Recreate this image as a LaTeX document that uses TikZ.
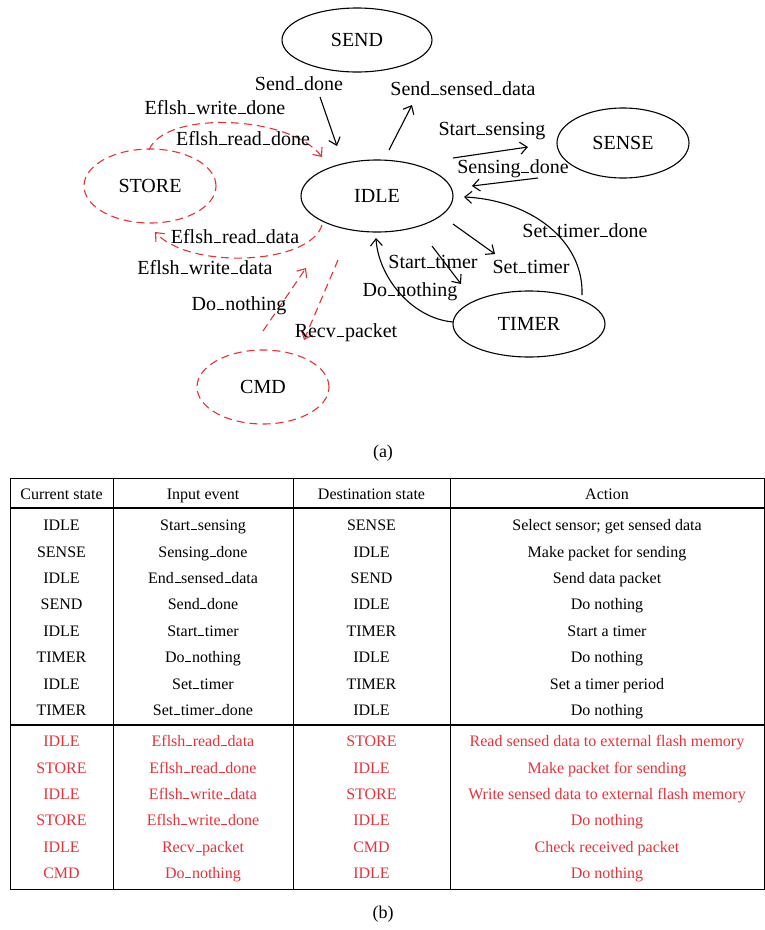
\documentclass[tikz,border=0pt]{standalone}
\usepackage{fontspec}
\setmainfont{Liberation Serif}
\usetikzlibrary{arrows.meta,shapes.geometric}
\definecolor{hlred}{RGB}{232,48,56}
% short baseline underscore used in event names
\newcommand{\us}{\kern0.04em\rule[-0.02em]{0.38em}{0.06em}\kern0.04em}

\begin{document}
\begin{tikzpicture}[x=1pt,y=-1pt,
  state/.style={ellipse, draw, line width=1.1pt, inner sep=0pt, font=\fontsize{20}{24}\selectfont},
  redstate/.style={state, draw=hlred, dash pattern=on 8pt off 5pt},
  lbl/.style={font=\fontsize{20}{24}\selectfont, inner sep=0pt, anchor=base},
  arr/.style={line width=1.1pt, -{Straight Barb[length=7pt,width=12pt,line width=1.1pt]}},
  redarr/.style={arr, draw=hlred, dash pattern=on 8pt off 5pt},
  cell/.style={font=\fontsize{16}{19}\selectfont, inner sep=0pt, anchor=base},
  redcell/.style={cell, text=hlred},
  tabrule/.style={line width=0.9pt},
  heavyrule/.style={line width=1.6pt},
  caption/.style={font=\fontsize{18}{21}\selectfont, inner sep=0pt, anchor=base}
]
\useasboundingbox (0,0) rectangle (765,930);

% ---------- state machine ----------
\node[state, minimum width=150pt, minimum height=64pt] (SEND) at (357,40) {SEND};
\node[state, minimum width=132pt, minimum height=70pt] (SENSE) at (623,143) {SENSE};
\node[state, minimum width=152pt, minimum height=72pt] (IDLE) at (377,196) {IDLE};
\node[state, minimum width=152pt, minimum height=66pt] (TIMER) at (529,324) {TIMER};
\node[redstate, minimum width=132pt, minimum height=74pt] (STORE) at (150,186) {STORE};
\node[redstate, minimum width=132pt, minimum height=74pt] (CMD) at (263,387) {CMD};

% connector end points
\coordinate (sdA) at (320,97);   \coordinate (sdB) at (337,146);
\coordinate (ssA) at (389,150);  \coordinate (ssB) at (412,105);
\coordinate (stA) at (453,158);  \coordinate (stB) at (528,147);
\coordinate (snA) at (538,178);  \coordinate (snB) at (472,186);
\coordinate (tdA) at (582,295);  \coordinate (tdB) at (464,197);
\coordinate (tsA) at (453,224);  \coordinate (tsB) at (495,254);
\coordinate (trA) at (432,246);  \coordinate (trB) at (461,284);
\coordinate (dnA) at (453,322);  \coordinate (dnB) at (376,238);
\coordinate (wdA) at (149,150);  \coordinate (wdB) at (322,157);
\coordinate (rdA) at (322,225);  \coordinate (rdB) at (155,232);
\coordinate (cdA) at (263,331);  \coordinate (cdB) at (306,268);
\coordinate (rpA) at (338,260);  \coordinate (rpB) at (304,340);

% black transitions
\draw[arr] (sdA) -- (sdB);
\draw[arr] (ssA) -- (ssB);
\draw[arr] (stA) -- (stB);
\draw[arr] (snA) -- (snB);
\draw[arr] (tdA) .. controls (584,240) and (530,200) .. (tdB);
\draw[arr] (tsA) -- (tsB);
\draw[arr] (trA) -- (trB);
\draw[arr] (dnA) .. controls (410,318) and (378,275) .. (dnB);

% red (flash / command) transitions
\draw[redarr] (wdA) .. controls (165,110) and (290,115) .. (wdB);
\draw[redarr] (rdA) .. controls (310,265) and (190,270) .. (rdB);
\draw[redarr] (cdA) -- (cdB);
\draw[redarr] (rpA) -- (rpB);

% transition labels
\node[lbl] (lSendDone) at (299,90) {Send\us done};
\node[lbl] (lWriteDone) at (215,114) {Eflsh\us write\us done};
\node[lbl] (lReadDone) at (243,145) {Eflsh\us read\us done};
\node[lbl] (lSendData) at (463,95) {Send\us sensed\us data};
\node[lbl] (lStartSense) at (492,135) {Start\us sensing};
\node[lbl] (lSenseDone) at (513,173) {Sensing\us done};
\node[lbl] (lTimerDone) at (585,237) {Set\us timer\us done};
\node[lbl] (lStartTimer) at (433,268) {Start\us timer};
\node[lbl] (lSetTimer) at (531,273) {Set\us timer};
\node[lbl] (lNothingT) at (410,296) {Do\us nothing};
\node[lbl] (lReadData) at (235,243) {Eflsh\us read\us data};
\node[lbl] (lWriteData) at (205,274) {Eflsh\us write\us data};
\node[lbl] (lNothingC) at (239,310) {Do\us nothing};
\node[lbl] (lRecv) at (346,337) {Recv\us packet};

\node[caption] (capA) at (383,457) {(a)};

% ---------- transition table ----------
\draw[tabrule] (10,478) rectangle (764,889);
\foreach \cx in {113,293,450} \draw[tabrule] (\cx,478) -- (\cx,889);
\draw[heavyrule] (10,508) -- (764,508);
\draw[heavyrule] (10,725) -- (764,725);

\node[cell] (h1) at (61.5,499) {Current state};
\node[cell] (h2) at (203,499) {Input event};
\node[cell] (h3) at (371.5,499) {Destination state};
\node[cell] (h4) at (607,499) {Action};

\foreach \y/\a/\b/\c/\d in {
  530/IDLE/Start\us sensing/SENSE/Select sensor; get sensed data,
  557/SENSE/Sensing\us done/IDLE/Make packet for sending,
  583/IDLE/End\us sensed\us data/SEND/Send data packet,
  609/SEND/Send\us done/IDLE/Do nothing,
  636/IDLE/Start\us timer/TIMER/Start a timer,
  662/TIMER/Do\us nothing/IDLE/Do nothing,
  689/IDLE/Set\us timer/TIMER/Set a timer period,
  715/TIMER/Set\us timer\us done/IDLE/Do nothing}{
  \node[cell] at (61.5,\y) {\a};
  \node[cell] at (203,\y) {\b};
  \node[cell] at (371.5,\y) {\c};
  \node[cell] at (607,\y) {\d};
}

\foreach \y/\a/\b/\c/\d in {
  746/IDLE/Eflsh\us read\us data/STORE/Read sensed data to external flash memory,
  773/STORE/Eflsh\us read\us done/IDLE/Make packet for sending,
  799/IDLE/Eflsh\us write\us data/STORE/Write sensed data to external flash memory,
  825/STORE/Eflsh\us write\us done/IDLE/Do nothing,
  852/IDLE/Recv\us packet/CMD/Check received packet,
  878/CMD/Do\us nothing/IDLE/Do nothing}{
  \node[redcell] at (61.5,\y) {\a};
  \node[redcell] at (203,\y) {\b};
  \node[redcell] at (371.5,\y) {\c};
  \node[redcell] at (607,\y) {\d};
}

\node[caption] (capB) at (383,918) {(b)};
\end{tikzpicture}
\end{document}
